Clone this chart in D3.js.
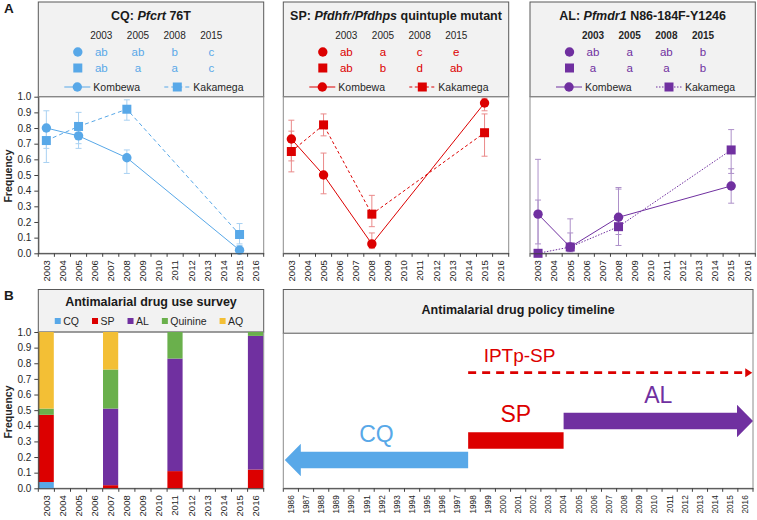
<!DOCTYPE html>
<html>
<head>
<meta charset="utf-8">
<script src="https://cdn.jsdelivr.net/npm/d3@7"></script>
<style>
  body { margin: 0; background: #fff; }
  svg { display: block; }
</style>
</head>
<body>
<script>
'use strict'

// ---------------- data ----------------

// x categories of the A panels and of the survey panel
const axisYears = ['2003', '2004', '2005', '2006', '2007', '2008', '2009', '2010', '2011', '2012', '2013', '2014', '2015', '2016']
const sampleYears = ['2003', '2005', '2008', '2015']
const freqTicks = [0, 0.1, 0.2, 0.3, 0.4, 0.5, 0.6, 0.7, 0.8, 0.9, 1.0]
const sites = ['Kombewa', 'Kakamega']

// CQ: Pfcrt 76T
const cqKombewa = [0.80, 0.75, 0.61, 0.02]
const cqKombewaLo = [0.67, 0.67, 0.51, 0.00]
const cqKombewaHi = [0.91, 0.80, 0.66, 0.05]
const cqKakamega = [0.72, 0.81, 0.92, 0.12]
const cqKakamegaLo = [0.58, 0.70, 0.85, 0.06]
const cqKakamegaHi = [0.80, 0.90, 0.98, 0.19]
const cqLettersKombewa = ['ab', 'ab', 'b', 'c']
const cqLettersKakamega = ['ab', 'a', 'a', 'c']

// SP: Pfdhfr/Pfdhps quintuple mutant
const spKombewa = [0.73, 0.50, 0.06, 0.96]
const spKombewaLo = [0.59, 0.38, 0.03, 0.91]
const spKombewaHi = [0.85, 0.64, 0.13, 0.99]
const spKakamega = [0.65, 0.82, 0.25, 0.77]
const spKakamegaLo = [0.52, 0.75, 0.17, 0.62]
const spKakamegaHi = [0.78, 0.89, 0.37, 0.89]
const spLettersKombewa = ['ab', 'a', 'c', 'e']
const spLettersKakamega = ['ab', 'b', 'd', 'ab']

// AL: Pfmdr1 N86-184F-Y1246
const alKombewa = [0.25, 0.04, 0.23, 0.43]
const alKombewaLo = [0.06, 0.01, 0.12, 0.32]
const alKombewaHi = [0.60, 0.22, 0.42, 0.54]
const alKakamega = [0.00, 0.04, 0.17, 0.66]
const alKakamegaLo = [0.00, 0.01, 0.05, 0.51]
const alKakamegaHi = [0.34, 0.13, 0.41, 0.79]
const alLettersKombewa = ['ab', 'a', 'ab', 'b']
const alLettersKakamega = ['a', 'a', 'a', 'b']

// Antimalarial drug use survey (stacked, bottom to top)
const surveyYears = ['2003', '2007', '2011', '2016']
const drugs = ['CQ', 'SP', 'AL', 'Quinine', 'AQ']
const useCQ = [0.04, 0.00, 0.00, 0.00]
const useSP = [0.43, 0.02, 0.11, 0.12]
const useAL = [0.00, 0.49, 0.72, 0.855]
const useQuinine = [0.04, 0.25, 0.17, 0.025]
const useAQ = [0.49, 0.24, 0.00, 0.00]

// Antimalarial drug policy timeline
const policyYears = ['1986', '1987', '1988', '1989', '1990', '1991', '1992', '1993', '1994', '1995', '1996',
    '1997', '1998', '1999', '2000', '2001', '2002', '2003', '2004', '2005', '2006', '2007', '2008', '2009',
    '2010', '2011', '2012', '2013', '2014', '2015', '2016']
const policyDrugs = ['CQ', 'SP', 'AL']
const policyStart = [1985.6, 1997.7, 2004.0]
const policyEnd = [1997.7, 2004.0, 2016.5]
const iptpLabel = 'IPTp-SP'
const iptpStart = 1997.7
const iptpEnd = 2016.45

// ---------------- styles ----------------
const FONT = '"Liberation Sans", Arial, sans-serif'
const TEXT = '#262626'
const colors = { CQ: '#58a8e8', SP: '#dc0000', AL: '#7030a0', Quinine: '#6ab04c', AQ: '#f3bf35' }
const lightColors = { CQ: '#a9d1f2', SP: '#ea8a8a', AL: '#ad90c9' }

const W = 757, H = 520
const A = { top: 2, head: 96.7, bottom: 253.3 }
const B = { top: 289.5, head: 332, bottom: 488.3 }
const colsA = [[38.3, 263.7], [283.3, 508.7], [530, 755.3]]

const svg = d3.select('body').append('svg')
    .attr('width', W)
    .attr('height', H)
    .attr('font-family', FONT)

function headerBox(x0, x1, top, bottom) {
    svg.append('rect')
        .attr('x', x0).attr('y', top)
        .attr('width', x1 - x0).attr('height', bottom - top)
        .attr('fill', '#f2f2f2')
        .attr('stroke', '#595959')
}

function frame(x0, x1, top, bottom) {
    svg.append('rect')
        .attr('x', x0).attr('y', top)
        .attr('width', x1 - x0).attr('height', bottom - top)
        .attr('fill', 'none')
        .attr('stroke', '#8c8c8c')
}

// category axis: labels centered, ticks on the category edges
function bottomAxis(x, yPos, fontSize) {
    const g = svg.append('g')
        .attr('transform', `translate(0,${yPos})`)
        .call(d3.axisBottom(x).tickSize(0).tickSizeOuter(0))
        .attr('font-family', FONT)
    g.select('.domain').attr('stroke', '#404040')
    g.selectAll('.tick text')
        .attr('transform', 'rotate(-90)')
        .attr('text-anchor', 'end')
        .attr('x', -7)
        .attr('y', 0)
        .attr('dy', '0.35em')
        .attr('fill', TEXT)
        .style('font-size', fontSize + 'px')
    const edges = x.domain().map(d => x(d)).concat([x.range()[1]])
    g.selectAll('line.edge')
        .data(edges)
        .enter()
        .append('line')
        .attr('class', 'edge')
        .attr('x1', d => d).attr('x2', d => d)
        .attr('y1', 0).attr('y2', 3.5)
        .attr('stroke', '#404040')
}

function leftAxis(y, x0) {
    const g = svg.append('g')
        .attr('transform', `translate(${x0},0)`)
        .call(d3.axisLeft(y).tickValues(freqTicks).tickFormat(d3.format('.1f')).tickSize(4).tickSizeOuter(0).tickPadding(3))
        .attr('font-family', FONT)
    g.select('.domain').attr('stroke', '#404040')
    g.selectAll('.tick line').attr('stroke', '#404040')
    g.selectAll('.tick text').attr('fill', TEXT).style('font-size', '10px')
}

function yTitle(cy) {
    svg.append('text')
        .attr('transform', `translate(12,${cy}) rotate(-90)`)
        .attr('text-anchor', 'middle')
        .attr('font-weight', 'bold')
        .attr('font-size', 10.5)
        .attr('fill', TEXT)
        .text('Frequency')
}

function marker(g, shape, cx, cy, color) {
    if (shape === 'circle') {
        g.append('circle').attr('cx', cx).attr('cy', cy).attr('r', 4.7).attr('fill', color)
    } else {
        g.append('rect').attr('x', cx - 4.5).attr('y', cy - 4.5).attr('width', 9).attr('height', 9).attr('fill', color)
    }
}

// ---------------- panel A ----------------

const genePanels = [
    {
        drug: 'CQ', cols: colsA[0], boldYears: false, dash: '4,3', yAxis: true,
        title: [['CQ: ', false], ['Pfcrt', true], [' 76T', false]],
        letters: [cqLettersKombewa, cqLettersKakamega],
        series: [
            { v: cqKombewa, lo: cqKombewaLo, hi: cqKombewaHi },
            { v: cqKakamega, lo: cqKakamegaLo, hi: cqKakamegaHi }
        ]
    },
    {
        drug: 'SP', cols: colsA[1], boldYears: false, dash: '3,2.5', yAxis: false,
        title: [['SP: ', false], ['Pfdhfr/Pfdhps', true], ['  quintuple mutant', false]],
        letters: [spLettersKombewa, spLettersKakamega],
        series: [
            { v: spKombewa, lo: spKombewaLo, hi: spKombewaHi },
            { v: spKakamega, lo: spKakamegaLo, hi: spKakamegaHi }
        ]
    },
    {
        drug: 'AL', cols: colsA[2], boldYears: true, dash: '1.5,1.5', yAxis: false,
        title: [['AL: ', false], ['Pfmdr1', true], [' N86-184F-Y1246', false]],
        letters: [alLettersKombewa, alLettersKakamega],
        series: [
            { v: alKombewa, lo: alKombewaLo, hi: alKombewaHi },
            { v: alKakamega, lo: alKakamegaLo, hi: alKakamegaHi }
        ]
    }
]

const shapes = ['circle', 'square']

genePanels.forEach(p => {
    const x0 = p.cols[0], x1 = p.cols[1]
    const color = colors[p.drug]
    const light = lightColors[p.drug]

    headerBox(x0, x1, A.top, A.head)
    frame(x0, x1, A.head, A.bottom)

    // title with italic gene names
    const t = svg.append('text')
        .attr('x', (x0 + x1) / 2).attr('y', A.top + 18)
        .attr('text-anchor', 'middle')
        .attr('font-weight', 'bold')
        .attr('font-size', 12.5)
        .attr('fill', '#1a1a1a')
    p.title.forEach(part => {
        t.append('tspan').attr('font-style', part[1] ? 'italic' : 'normal').text(part[0])
    })

    // table of significance letters
    const colX = d3.scalePoint().domain(sampleYears).range([x0 + 63, x0 + 173])
    svg.selectAll(null)
        .data(sampleYears)
        .enter()
        .append('text')
        .attr('x', d => colX(d)).attr('y', A.top + 36.5)
        .attr('text-anchor', 'middle')
        .attr('font-size', 10)
        .attr('font-weight', p.boldYears ? 'bold' : 'normal')
        .attr('fill', TEXT)
        .text(d => d)
    p.letters.forEach((row, i) => {
        const cy = A.top + 50 + i * 16
        marker(svg, shapes[i], x0 + 39.5, cy, color)
        svg.selectAll(null)
            .data(row)
            .enter()
            .append('text')
            .attr('x', (d, j) => colX(sampleYears[j])).attr('y', cy + 4)
            .attr('text-anchor', 'middle')
            .attr('font-size', 11.5)
            .attr('fill', color)
            .text(d => d)
    })

    // legend
    sites.forEach((site, i) => {
        const lx = x0 + 26 + i * 100
        const cy = A.top + 85
        const lg = svg.append('g')
        lg.append('line')
            .attr('x1', lx).attr('x2', lx + 26)
            .attr('y1', cy).attr('y2', cy)
            .attr('stroke', color)
            .attr('stroke-dasharray', i === 0 ? null : p.dash)
        marker(lg, shapes[i], lx + 13, cy, color)
        lg.append('text')
            .attr('x', lx + 29).attr('y', cy + 3.8)
            .attr('font-size', 10.5)
            .attr('fill', TEXT)
            .text(site)
    })

    // plot
    const x = d3.scaleBand().domain(axisYears).range([x0, x1])
    const y = d3.scaleLinear().domain([0, 1]).range([A.bottom, A.head])
    const cx = d => x(d) + x.bandwidth() / 2

    p.series.forEach(s => {
        const eb = svg.append('g').attr('stroke', light).attr('stroke-width', 1)
        sampleYears.forEach((yr, j) => {
            eb.append('line').attr('x1', cx(yr)).attr('x2', cx(yr)).attr('y1', y(s.lo[j])).attr('y2', y(s.hi[j]))
            eb.append('line').attr('x1', cx(yr) - 3).attr('x2', cx(yr) + 3).attr('y1', y(s.lo[j])).attr('y2', y(s.lo[j]))
            eb.append('line').attr('x1', cx(yr) - 3).attr('x2', cx(yr) + 3).attr('y1', y(s.hi[j])).attr('y2', y(s.hi[j]))
        })
    })

    const line = d3.line().x((d, j) => cx(sampleYears[j])).y(d => y(d))
    p.series.forEach((s, i) => {
        svg.append('path')
            .attr('d', line(s.v))
            .attr('fill', 'none')
            .attr('stroke', color)
            .attr('stroke-width', 1)
            .attr('stroke-dasharray', i === 0 ? null : p.dash)
    })
    p.series.forEach((s, i) => {
        s.v.forEach((v, j) => marker(svg, shapes[i], cx(sampleYears[j]), y(v), color))
    })

    bottomAxis(x, A.bottom, 9.5)
    if (p.yAxis) leftAxis(y, x0)
})

yTitle(176)

// panel letters
svg.append('text').attr('x', 4).attr('y', 13).attr('font-weight', 'bold').attr('font-size', 13.5).attr('fill', '#1a1a1a').text('A')
svg.append('text').attr('x', 4).attr('y', 300).attr('font-weight', 'bold').attr('font-size', 13.5).attr('fill', '#1a1a1a').text('B')

// ---------------- panel B: drug use survey ----------------
{
    const x0 = 38.3, x1 = 263.7
    headerBox(x0, x1, B.top, B.head)
    frame(x0, x1, B.head, B.bottom)

    svg.append('text')
        .attr('x', (x0 + x1) / 2).attr('y', B.top + 16.5)
        .attr('text-anchor', 'middle')
        .attr('font-weight', 'bold')
        .attr('font-size', 12.5)
        .attr('fill', '#1a1a1a')
        .text('Antimalarial  drug use survey')

    // legend, laid out from the text widths
    const lg = svg.append('g')
    let lx = 0
    drugs.forEach(d => {
        lg.append('rect').attr('x', lx).attr('y', -3).attr('width', 6).attr('height', 6).attr('fill', colors[d])
        const tx = lg.append('text')
            .attr('x', lx + 8.5).attr('y', 3.8)
            .attr('font-size', 10.5)
            .attr('fill', TEXT)
            .text(d)
        lx += 8.5 + tx.node().getComputedTextLength() + 13
    })
    const legendW = lx - 13
    lg.attr('transform', `translate(${(x0 + x1) / 2 - legendW / 2 - 2},${B.top + 31.5})`)

    const x = d3.scaleBand().domain(axisYears).range([x0, x1])
    const y = d3.scaleLinear().domain([0, 1]).range([B.bottom, B.head])

    const useByDrug = { CQ: useCQ, SP: useSP, AL: useAL, Quinine: useQuinine, AQ: useAQ }
    const rows = surveyYears.map((yr, i) => {
        const row = { year: yr }
        drugs.forEach(d => { row[d] = useByDrug[d][i] })
        return row
    })
    const stacked = d3.stack().keys(drugs)(rows)

    svg.append('g')
        .selectAll('g')
        .data(stacked)
        .enter()
        .append('g')
        .attr('fill', d => colors[d.key])
        .selectAll('rect')
        .data(d => d)
        .enter()
        .append('rect')
        .attr('x', d => x(d.data.year) + 0.3)
        .attr('width', x.bandwidth() - 0.9)
        .attr('y', d => y(d[1]))
        .attr('height', d => y(d[0]) - y(d[1]))

    bottomAxis(x, B.bottom, 9.5)
    leftAxis(y, x0)
    yTitle(412)
}

// ---------------- panel B: drug policy timeline ----------------
{
    const x0 = 283.3, x1 = 753
    headerBox(x0, x1, B.top, B.head + 1.3)
    frame(x0, x1, B.head + 1.3, B.bottom)

    svg.append('text')
        .attr('x', (x0 + x1) / 2).attr('y', B.top + 24)
        .attr('text-anchor', 'middle')
        .attr('font-weight', 'bold')
        .attr('font-size', 12.5)
        .attr('fill', '#1a1a1a')
        .text('Antimalarial  drug policy timeline')

    const x = d3.scaleBand().domain(policyYears).range([x0, x1])
    const half = x.bandwidth() / 2
    const yearX = d3.scaleLinear()
        .domain([+policyYears[0], +policyYears[policyYears.length - 1]])
        .range([x(policyYears[0]) + half, x(policyYears[policyYears.length - 1]) + half])
    // one lane per drug, stepping upward
    const laneY = d3.scaleLinear().domain([0, policyDrugs.length - 1]).range([460, 421])
    const heads = { CQ: 'left', SP: 'none', AL: 'right' }
    const hb = 8.3, hh = 16.3, hl = 16

    policyDrugs.forEach((drug, i) => {
        const a = yearX(policyStart[i]), b = yearX(policyEnd[i]), cy = laneY(i)
        let pts
        if (heads[drug] === 'left') {
            pts = [[b, cy - hb], [a + hl, cy - hb], [a + hl, cy - hh], [a, cy], [a + hl, cy + hh], [a + hl, cy + hb], [b, cy + hb]]
        } else if (heads[drug] === 'right') {
            pts = [[a, cy - hb], [b - hl, cy - hb], [b - hl, cy - hh], [b, cy], [b - hl, cy + hh], [b - hl, cy + hb], [a, cy + hb]]
        } else {
            pts = [[a, cy - hb], [b, cy - hb], [b, cy + hb], [a, cy + hb]]
        }
        svg.append('path')
            .attr('d', d3.line()(pts) + 'Z')
            .attr('fill', colors[drug])
        svg.append('text')
            .attr('x', (a + b) / 2).attr('y', cy - hb - 10)
            .attr('text-anchor', 'middle')
            .attr('font-size', 23)
            .attr('fill', colors[drug])
            .text(drug)
    })

    // IPTp-SP dashed arrow
    const ia = yearX(iptpStart), ib = yearX(iptpEnd), iy = 372.7
    svg.append('line')
        .attr('x1', ia).attr('x2', ib - 6)
        .attr('y1', iy).attr('y2', iy)
        .attr('stroke', colors.SP)
        .attr('stroke-width', 2.8)
        .attr('stroke-dasharray', '8,6')
    svg.append('path')
        .attr('d', d3.line()([[ib - 7, iy - 4.5], [ib, iy], [ib - 7, iy + 4.5]]) + 'Z')
        .attr('fill', colors.SP)
    svg.append('text')
        .attr('x', ia + 15.5).attr('y', iy - 11)
        .attr('font-size', 19)
        .attr('fill', colors.SP)
        .text(iptpLabel)

    bottomAxis(x, B.bottom, 8.2)
}
</script>
</body>
</html>
